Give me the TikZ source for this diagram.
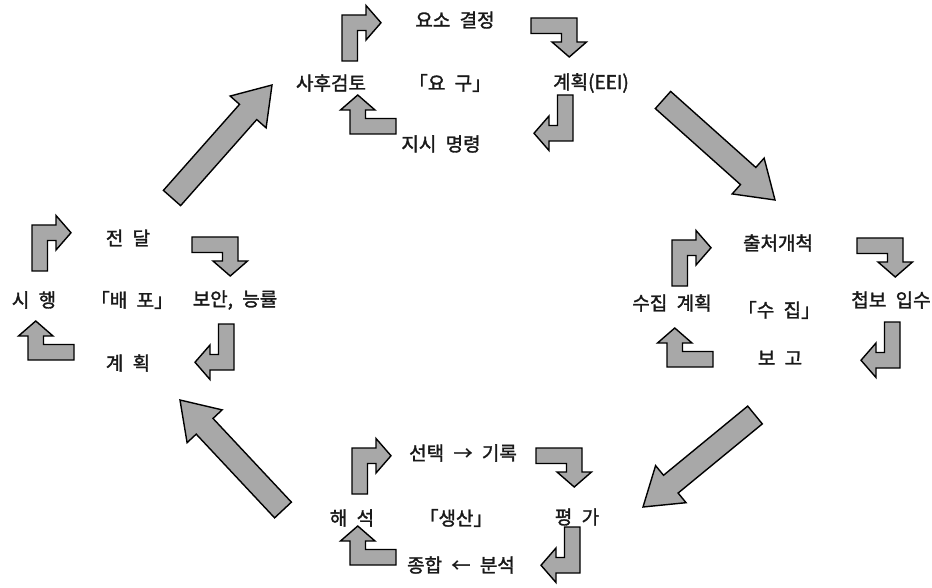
\documentclass[tikz,border=0pt]{standalone}
\usepackage{fontspec}
\setmainfont{Noto Sans CJK KR}[WordSpace=2.2, FakeBold=1.6]
\usetikzlibrary{calc}
\tikzset{
  lbl/.style={font=\fontsize{19}{22}\selectfont, inner sep=0pt, text=black!90},
  pat/.style={fill=black!34, draw=black, line width=1.4pt, line join=miter},
}
\newcommand{\bentarr}[3]{%
  \begin{scope}[shift={(#1,#2)}, rotate=#3]
    \filldraw[pat] (0,46) -- (0,0) -- (24,0) -- (24,-9.5) -- (39,7.75) -- (24,25) -- (24,15.5) -- (15.5,15.5) -- (15.5,46) -- cycle;
  \end{scope}}
\newcommand{\bigarr}[2]{%
  \coordinate (hb) at ($(#2)!36pt!(#1)$);
  \filldraw[pat] ($(#1)!11.5pt!90:(#2)$) -- ($(hb)!11.5pt!90:(#2)$) -- ($(hb)!24pt!90:(#2)$) -- (#2)
     -- ($(hb)!24pt!-90:(#2)$) -- ($(hb)!11.5pt!-90:(#2)$) -- ($(#1)!11.5pt!-90:(#2)$) -- cycle;}
\begin{document}
\begin{tikzpicture}[x=1pt,y=-1pt]
\useasboundingbox (0,0) rectangle (932,588);
% big arrows
\coordinate (ulT) at (172,198); \coordinate (ulP) at (272,85);
\coordinate (urT) at (663,100); \coordinate (urP) at (775,200);
\coordinate (lrT) at (755,415); \coordinate (lrP) at (643,507);
\coordinate (llT) at (283,510); \coordinate (llP) at (180,400);
\bigarr{ulT}{ulP}
\bigarr{urT}{urP}
\bigarr{lrT}{lrP}
\bigarr{llT}{llP}
% top cluster
\bentarr{342}{15}{0}
\bentarr{577}{18}{-90}
\bentarr{573}{141}{180}
\bentarr{350}{134}{90}
\node[lbl] (t1) at (455,20) {요소 결정};
\node[lbl] (t2) at (331,83) {사후검토};
\node[lbl] (t3) at (450,83) {「요 구」};
\node[lbl] (t4) at (591,83) {계획(EEI)};
\node[lbl] (t5) at (441,144) {지시 명령};
% left cluster
\bentarr{32}{225}{0}
\bentarr{238}{237}{-90}
\bentarr{234}{370}{180}
\bentarr{28}{360}{90}
\node[lbl] (l1) at (128,238) {전 달};
\node[lbl] (l2) at (34,300) {시 행};
\node[lbl] (l3) at (132,300) {「배 포」};
\node[lbl] (l4) at (235,300) {보안, 능률};
\node[lbl] (l5) at (128,363) {계 획};
% right cluster
\bentarr{672}{240}{0}
\bentarr{903}{238}{-90}
\bentarr{900}{368}{180}
\bentarr{667}{367}{90}
\node[lbl] (r1) at (778,243) {출처개척};
\node[lbl] (r2) at (672,303) {수집 계획};
\node[lbl] (r3) at (779,310) {「수 집」};
\node[lbl] (r4) at (891,300) {첩보 입수};
\node[lbl] (r5) at (780,358) {보 고};
% bottom cluster
\bentarr{352}{448}{0}
\bentarr{582}{448}{-90}
\bentarr{580}{573}{180}
\bentarr{350}{565}{90}
\node[lbl] (b1) at (463,453) {선택 → 기록};
\node[lbl] (b2) at (352,518) {해 석};
\node[lbl] (b3) at (456,518) {「생산」};
\node[lbl] (b4) at (577,517) {평 가};
\node[lbl] (b5) at (461,565) {종합 ← 분석};
\end{tikzpicture}
\end{document}
